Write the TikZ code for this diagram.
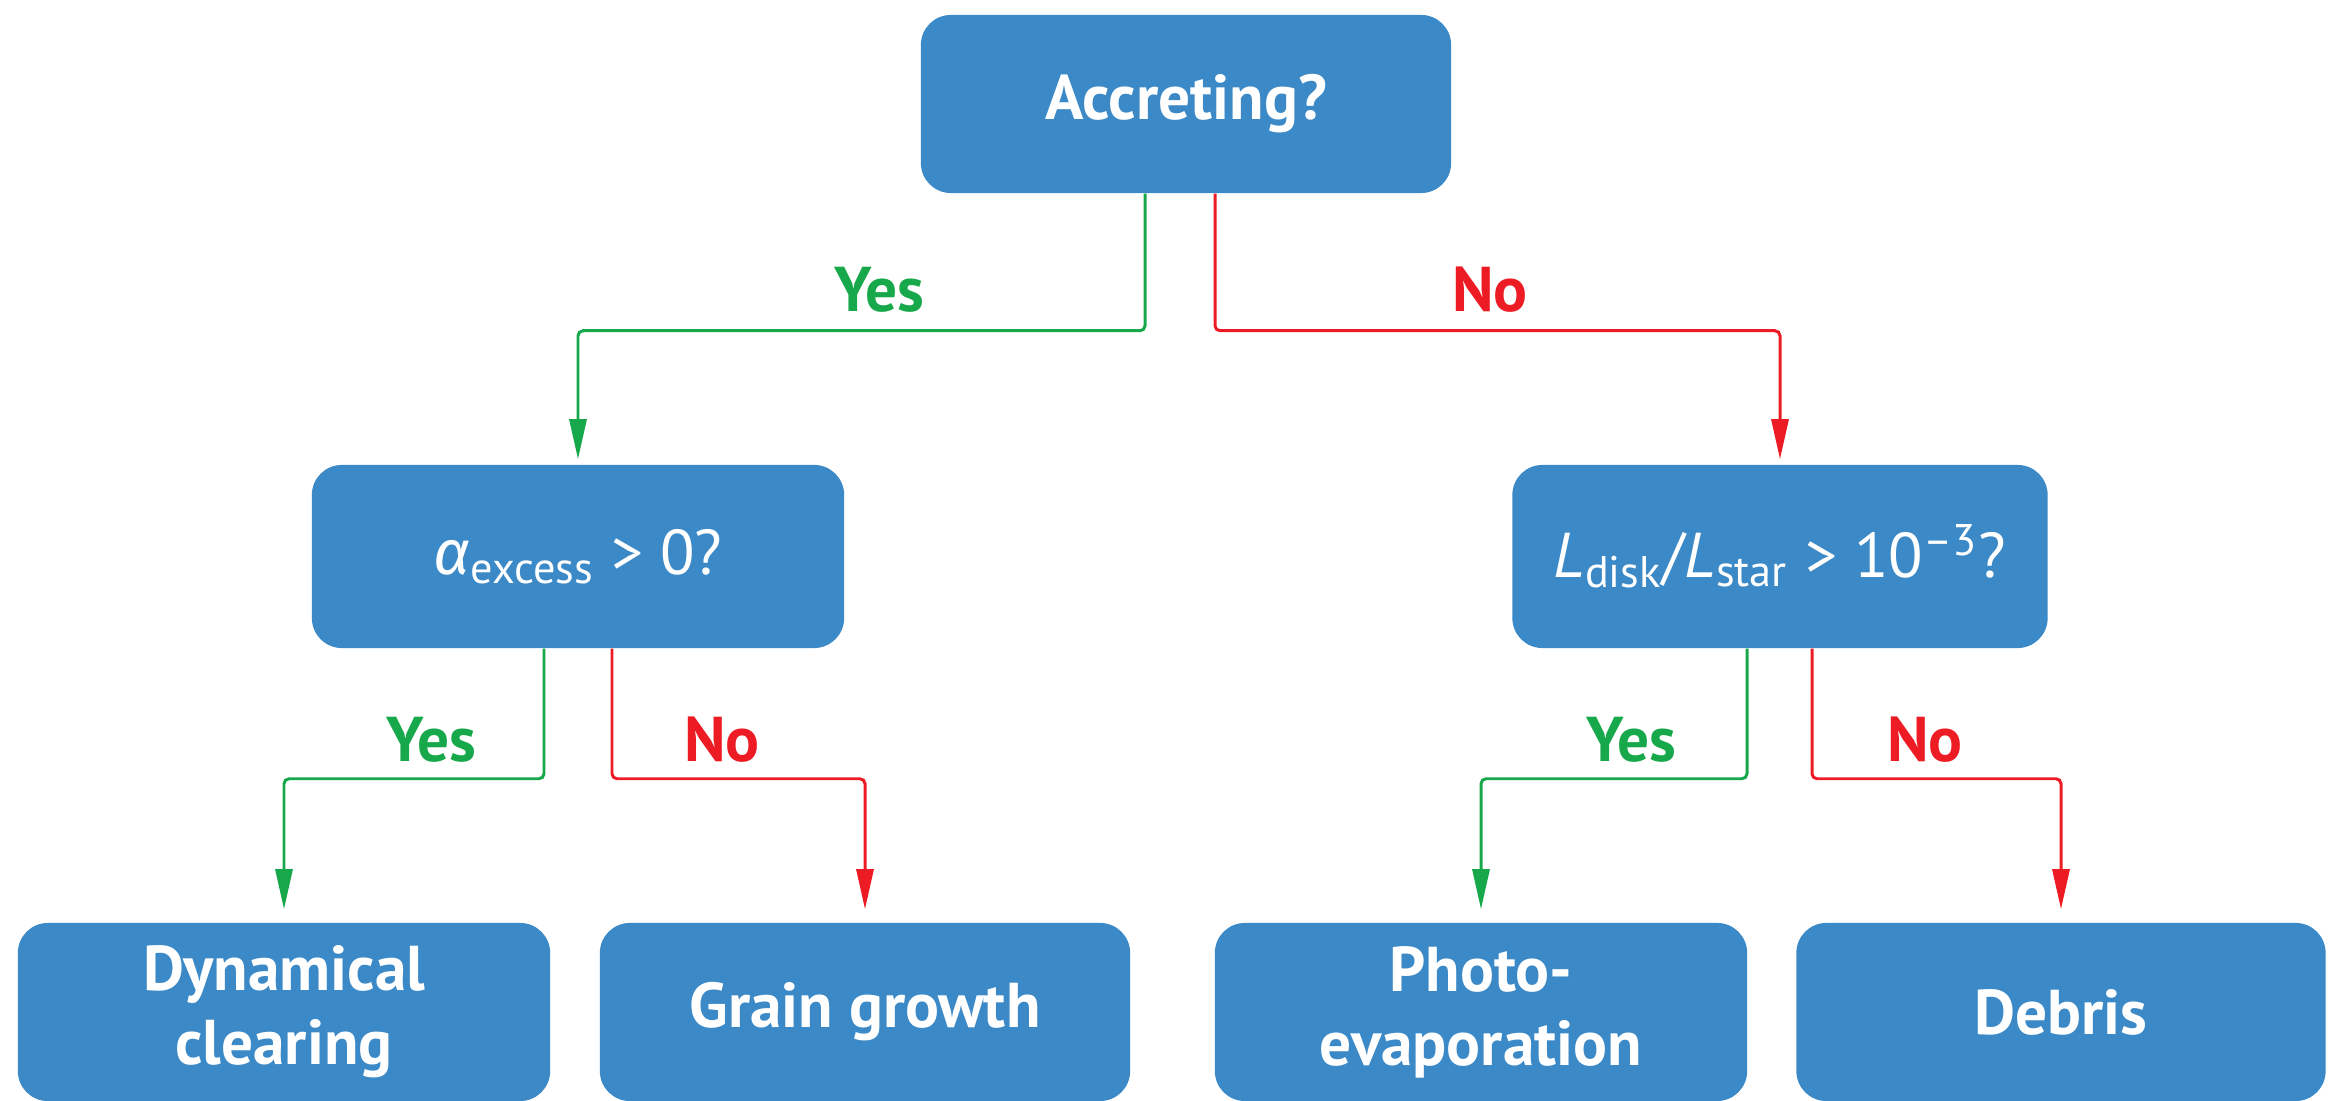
\documentclass[tikz,border=0pt]{standalone}
\usepackage{fontspec}
\setmainfont{PT Sans}
\newfontfamily\grkfont{Fira Sans}
\usetikzlibrary{arrows.meta,calc}
\definecolor{boxblue}{RGB}{59,137,199}
\definecolor{yesgreen}{RGB}{22,168,74}
\definecolor{nored}{RGB}{237,28,36}
\begin{document}
\begin{tikzpicture}[x=0.01cm,y=-0.01cm,
  box/.style={fill=boxblue, rounded corners=0.3cm, text=white, align=center,
    inner sep=0pt, font=\fontsize{18}{21}\selectfont\bfseries},
  mathbox/.style={box, font=\fontsize{18}{21}\selectfont},
  conn/.style={line width=0.85pt, rounded corners=0.05cm,
    -{Triangle[length=0.40cm,width=0.17cm]}},
  yesline/.style={conn, draw=yesgreen},
  noline/.style={conn, draw=nored},
  yeslabel/.style={text=yesgreen, font=\fontsize{18}{21}\selectfont\bfseries},
  nolabel/.style={text=nored, font=\fontsize{18}{21}\selectfont\bfseries}]
\useasboundingbox (0,0) rectangle (2329,1101);

% boxes
\node[box, minimum width=5.30cm, minimum height=1.78cm] (top) at (1186,104) {Accreting?};
\node[mathbox, minimum width=5.32cm, minimum height=1.83cm] (ml) at (578,556.5)
  {{\grkfont\itshape α}\textsubscript{excess} > 0?};
\node[mathbox, minimum width=5.35cm, minimum height=1.83cm] (mr) at (1780,556.5)
  {\textit{L}\textsubscript{disk}/\textit{L}\textsubscript{star} > 10\textsuperscript{--3}?};
\node[box, minimum width=5.32cm, minimum height=1.78cm] (b1) at (284,1012) {Dynamical\\clearing};
\node[box, minimum width=5.30cm, minimum height=1.78cm] (b2) at (865,1012) {Grain growth};
\node[box, minimum width=5.32cm, minimum height=1.78cm] (b3) at (1481,1012) {Photo-\\evaporation};
\node[box, minimum width=5.29cm, minimum height=1.78cm] (b4) at (2061,1012) {Debris};

% connectors
\draw[yesline, shorten >=0.05cm] ($(top.south)+(-41,0)$) -- ++(0,137) -| (ml.north);
\draw[noline, shorten >=0.05cm] ($(top.south)+(29,0)$) -- ++(0,137) -| (mr.north);
\draw[yesline, shorten >=0.13cm] ($(ml.south)+(-34,0)$) -- ++(0,130) -| (b1.north);
\draw[noline, shorten >=0.13cm] ($(ml.south)+(34,0)$) -- ++(0,130) -| (b2.north);
\draw[yesline, shorten >=0.13cm] ($(mr.south)+(-33,0)$) -- ++(0,130) -| (b3.north);
\draw[noline, shorten >=0.13cm] ($(mr.south)+(32,0)$) -- ++(0,130) -| (b4.north);

% labels
\node[yeslabel] (l1) at (879,290) {Yes};
\node[nolabel] (l2) at (1490,290) {No};
\node[yeslabel] (l3) at (431,740) {Yes};
\node[nolabel] (l4) at (722,740) {No};
\node[yeslabel] (l5) at (1631,740) {Yes};
\node[nolabel] (l6) at (1925,740) {No};
\end{tikzpicture}
\end{document}
